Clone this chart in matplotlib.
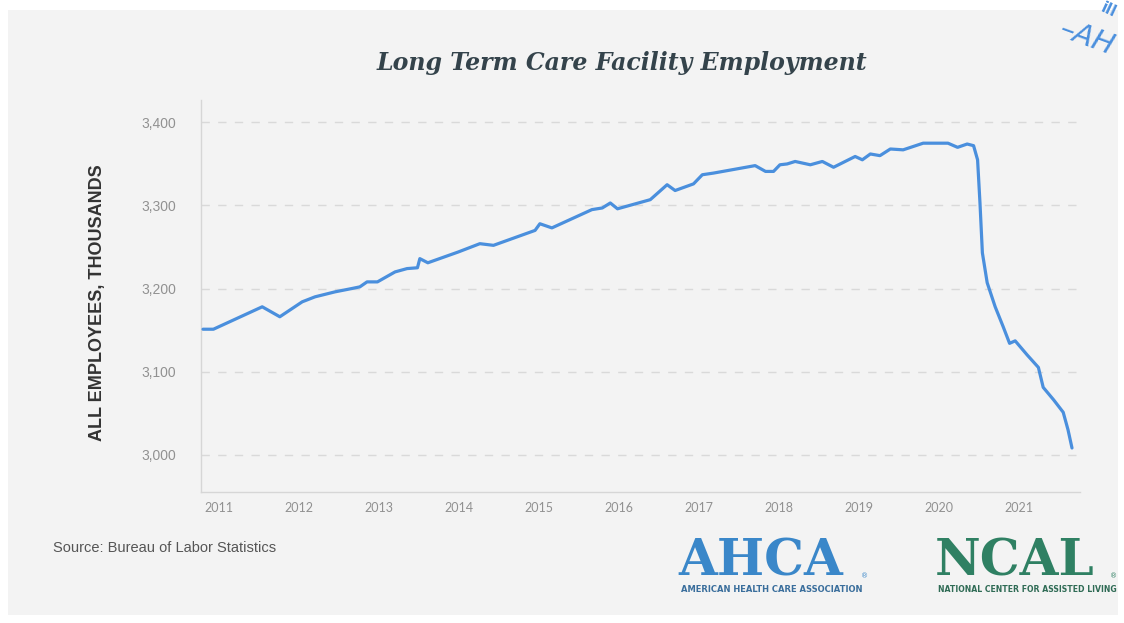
import matplotlib
matplotlib.use('Agg')
import matplotlib.pyplot as plt
from matplotlib.patches import Rectangle

# values (fractional year, thousands of employees)
years = [2010.80, 2010.93, 2011.54, 2011.76, 2012.04, 2012.20, 2012.45, 2012.66, 2012.76,
         2012.85, 2012.98, 2013.20, 2013.35, 2013.48, 2013.51, 2013.61, 2013.99, 2014.26,
         2014.43, 2014.95, 2015.01, 2015.16, 2015.66, 2015.79, 2015.89, 2015.98, 2016.39,
         2016.60, 2016.70, 2016.93, 2017.04, 2017.18, 2017.70, 2017.83, 2017.93, 2018.01,
         2018.10, 2018.20, 2018.39, 2018.54, 2018.68, 2018.95, 2019.04, 2019.14, 2019.26,
         2019.39, 2019.55, 2019.80, 2020.11, 2020.23, 2020.35, 2020.43, 2020.48, 2020.51,
         2020.54, 2020.60, 2020.70, 2020.80, 2020.88, 2020.95, 2021.10, 2021.24, 2021.30,
         2021.43, 2021.55, 2021.61, 2021.66]
employees = [3151, 3151, 3178, 3166, 3184, 3190, 3196, 3200, 3202,
             3208, 3208, 3220, 3224, 3225, 3236, 3231, 3244, 3254,
             3252, 3270, 3278, 3273, 3295, 3297, 3303, 3296, 3307,
             3325, 3318, 3326, 3337, 3339, 3348, 3341, 3341, 3349,
             3350, 3353, 3349, 3353, 3346, 3359, 3355, 3362, 3360,
             3368, 3367, 3375, 3375, 3370, 3374, 3372, 3355, 3303,
             3243, 3207, 3178, 3154, 3134, 3137, 3120, 3105, 3081,
             3066, 3051, 3030, 3008]

xticks = list(range(2011, 2022))
yticks = [3000, 3100, 3200, 3300, 3400]
ylabels = ['3,000', '3,100', '3,200', '3,300', '3,400']

W, H = 1124, 623
fig = plt.figure(figsize=(W / 100, H / 100), dpi=100)
fig.patch.set_facecolor('white')
# grey panel of the screenshot
fig.add_artist(Rectangle((8 / W, 8 / H), 1110 / W, 605 / H, transform=fig.transFigure,
                         facecolor='#f3f3f3', edgecolor='none', zorder=0))

ax = fig.add_axes([201 / W, 1 - 492 / H, 879 / W, 392 / H])
ax.set_facecolor('none')
ax.plot(years, employees, color='#4a8fdd', lw=2.3, solid_joinstyle='round',
        solid_capstyle='round', zorder=3)

ax.set_xlim(2010.775, 2021.76)
ax.set_ylim(2955, 3427)
ax.set_xticks(xticks)
ax.set_xticklabels([str(y) for y in xticks], family='Lato', fontsize=9, color='#919191')
ax.set_yticks(yticks)
ax.set_yticklabels(ylabels, family='Liberation Sans', fontsize=10, color='#919191')
ax.tick_params(length=0)
ax.tick_params(axis='y', pad=18)
ax.tick_params(axis='x', pad=7)
ax.grid(axis='y', color='#d9d9d9', lw=1, linestyle=(0, (6, 6)))
ax.set_axisbelow(True)
for s in ['top', 'right']:
    ax.spines[s].set_visible(False)
for s in ['left', 'bottom']:
    ax.spines[s].set_color('#d6d6d6')
    ax.spines[s].set_linewidth(1)

fig.text(98 / W, 1 - 303 / H, 'ALL EMPLOYEES, THOUSANDS', rotation=90, ha='center',
         va='center', family='Liberation Sans', fontweight='bold', fontsize=13, color='#333333')

fig.text(622 / W, 1 - 63 / H, 'Long Term Care Facility Employment', ha='center', va='center',
         family='DejaVu Serif', fontweight='bold', style='italic', fontsize=17, color='#34434b')

fig.text(53 / W, 1 - 548 / H, 'Source: Bureau of Labor Statistics', ha='left', va='center',
         family='Liberation Sans', fontsize=10.5, color='#555555')

# logos
fig.text(678 / W, 1 - 575 / H, 'AHCA', ha='left', va='baseline', family='DejaVu Serif',
         fontweight='bold', fontsize=36, color='#3a87c9')
fig.text(861 / W, 1 - 576 / H, '\u00ae', ha='left', va='center', fontsize=5, color='#3a87c9')
fig.text(772 / W, 1 - 590 / H, 'AMERICAN HEALTH CARE ASSOCIATION', ha='center', va='center',
         family='DejaVu Sans', fontweight='bold', fontsize=6, color='#3a6e9c')
fig.text(935 / W, 1 - 575 / H, 'NCAL', ha='left', va='baseline', family='DejaVu Serif',
         fontweight='bold', fontsize=36, color='#2f8063')
fig.text(1110 / W, 1 - 576 / H, '\u00ae', ha='left', va='center', fontsize=5, color='#2f8063')
fig.text(1027 / W, 1 - 590 / H, 'NATIONAL CENTER FOR ASSISTED LIVING', ha='center', va='center',
         family='DejaVu Sans', fontweight='bold', fontsize=5.6, color='#2f6b55')

# handwritten note at top right
fig.text(1056 / W, 1 - 38 / H, '\u2013AH', ha='left', va='center', rotation=-20,
         family='DejaVu Sans', style='italic', fontsize=21, color='#4a8fdd')
fig.text(1098 / W, 1 - 10 / H, 'ill', ha='left', va='center', rotation=-25,
         family='DejaVu Sans', fontweight='bold', fontsize=11, color='#4a8fdd')

fig.savefig('out.png', dpi=100)
